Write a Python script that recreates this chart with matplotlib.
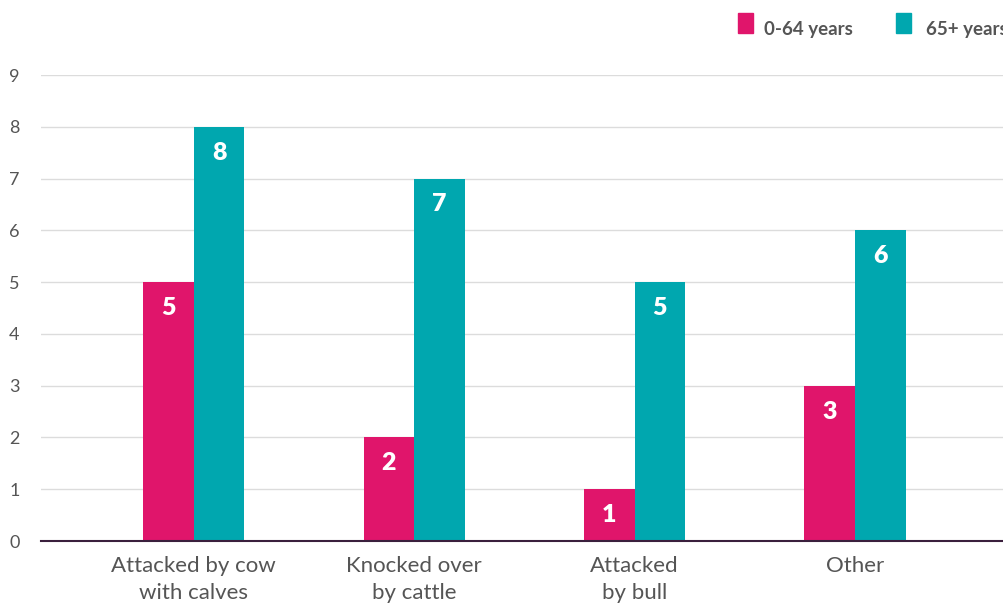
import matplotlib
matplotlib.use("Agg")
import matplotlib.pyplot as plt
import numpy as np

categories = ["Attacked by cow\nwith calves", "Knocked over\nby cattle", "Attacked\nby bull", "Other"]
young = [5, 2, 1, 3]
old = [8, 7, 5, 6]
series_names = ["0-64 years", "65+ years"]
yticks = list(range(0, 10))

PINK = "#E0156B"
TEAL = "#00A7AF"
TXT = "#555555"

plt.rcParams['font.family'] = ['Lato', 'DejaVu Sans']

fig = plt.figure(figsize=(10.04, 6.06), dpi=100)
ax = fig.add_axes([41/1004, 1-541/606, 1-41/1004, (541-75)/606])

x = np.arange(len(categories))
w = 0.2296
b1 = ax.bar(x - w/2, young, w, color=PINK, zorder=3)
b2 = ax.bar(x + w/2, old, w, color=TEAL, zorder=3)

for bars, vals in ((b1, young), (b2, old)):
    for r, v in zip(bars, vals):
        ax.text(r.get_x() + r.get_width()/2, v - 0.5, str(v), ha='center', va='center',
                color='white', fontsize=18, fontweight='heavy', zorder=4)

ax.set_xlim(-0.693, 3.676)
ax.set_ylim(0, 9)
ax.set_yticks(yticks)
ax.set_xticks(x)
ax.set_xticklabels(categories, fontsize=16, color=TXT, linespacing=1.42)
ax.tick_params(axis='x', length=0, pad=11)
ax.tick_params(axis='y', length=0, pad=23, labelsize=13, labelcolor=TXT)
for lab in ax.get_yticklabels():
    lab.set_horizontalalignment('left')
ax.grid(axis='y', color='#dcdcdc', linewidth=1, zorder=0)
for s in ['top', 'right', 'left']:
    ax.spines[s].set_visible(False)
ax.spines['bottom'].set_color('#3a1f3d')
ax.spines['bottom'].set_linewidth(1.5)
ax.spines['bottom'].set_zorder(5)

# legend
fig.patches.append(plt.Rectangle((738/1004, 1-33/606), 15/1004, 20/606, color=PINK, transform=fig.transFigure, figure=fig))
fig.text(764/1004, 1-29/606, series_names[0], fontsize=13.5, fontweight='bold', color=TXT, va='center', ha='left')
fig.patches.append(plt.Rectangle((896/1004, 1-33/606), 15/1004, 20/606, color=TEAL, transform=fig.transFigure, figure=fig))
fig.text(926/1004, 1-29/606, series_names[1], fontsize=13.5, fontweight='bold', color=TXT, va='center', ha='left')

fig.savefig("out.png", dpi=100)
